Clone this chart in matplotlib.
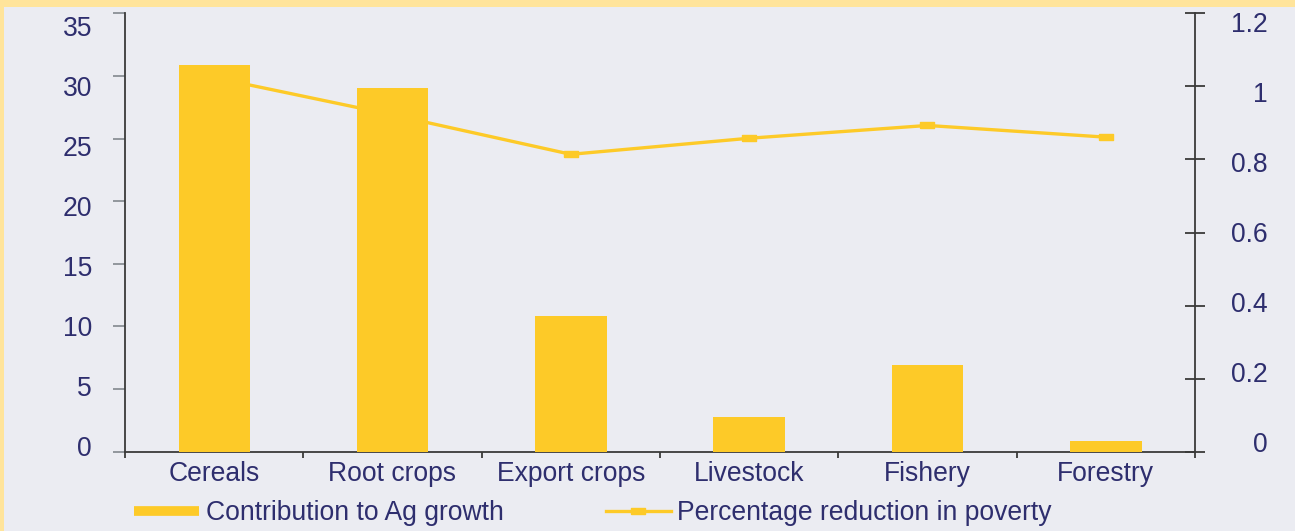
import matplotlib
matplotlib.use("Agg")
import matplotlib.pyplot as plt
import matplotlib.transforms as mtransforms
from matplotlib.lines import Line2D
from matplotlib.patches import Rectangle
import numpy as np

categories = ["Cereals", "Root crops", "Export crops", "Livestock", "Fishery", "Forestry"]
contribution = [30.87, 29.03, 10.83, 2.77, 6.92, 0.85]
poverty_reduction = [1.024, 0.922, 0.814, 0.858, 0.893, 0.861]
left_ticks = [0, 5, 10, 15, 20, 25, 30, 35]
left_labels = ["0", "5", "10", "15", "20", "25", "30", "35"]
right_ticks = [0, 0.2, 0.4, 0.6, 0.8, 1.0, 1.2]
right_labels = ["0", "0.2", "0.4", "0.6", "0.8", "1", "1.2"]
legend_labels = ["Contribution to Ag growth", "Percentage reduction in poverty"]

YELLOW = "#FDCA28"
BG = "#EBECF2"
BORDER = "#FFE49B"
TXT = "#2E2E6E"
SPINE = "#3A3A3A"

plt.rcParams["font.family"] = ["Liberation Sans", "DejaVu Sans"]
FS = 19.1
DPI = 100
W, H = 1295, 531

fig = plt.figure(figsize=(W / DPI, H / DPI), dpi=DPI, facecolor=BG)
# yellow border top and left
fig.patches.append(Rectangle((0, 1 - 7 / H), 1, 7 / H, transform=fig.transFigure,
                             facecolor=BORDER, edgecolor="none", zorder=0))
fig.patches.append(Rectangle((0, 0), 4 / W, 1, transform=fig.transFigure,
                             facecolor=BORDER, edgecolor="none", zorder=0))

left, right_px, top_px, bot_px = 125, 1195, 13.3, 451.7
ax = fig.add_axes([left / W, 1 - bot_px / H, (right_px - left) / W, (bot_px - top_px) / H])
ax2 = ax.twinx()
ax.set_zorder(ax2.get_zorder() + 1)
ax.patch.set_visible(False)
ax2.patch.set_facecolor(BG)

x = np.arange(len(categories))
ax.bar(x, contribution, width=0.40, color=YELLOW, zorder=3)

rect_marker = [(-1, -0.5), (1, -0.5), (1, 0.5), (-1, 0.5), (-1, -0.5)]
ax2.plot(x, poverty_reduction, color=YELLOW, lw=2.4, marker=rect_marker,
         markersize=10, markerfacecolor=YELLOW, markeredgecolor=YELLOW, zorder=2)

ax.set_xlim(-0.5, len(categories) - 0.5)
ax.set_ylim(0, 35)
ax2.set_ylim(0, 1.2)

# spines
for a in (ax, ax2):
    a.spines["top"].set_visible(False)
    for s in ("left", "right", "bottom"):
        a.spines[s].set_color(SPINE)
        a.spines[s].set_linewidth(1.3)
ax.spines["right"].set_visible(False)
ax2.spines["left"].set_visible(False)
ax2.spines["bottom"].set_visible(False)

# x ticks: major at boundaries, minor labelled at centers
ax.set_xticks(np.arange(-0.5, len(categories), 1.0))
ax.set_xticklabels([])
ax.tick_params(axis="x", which="major", direction="out", length=4, width=1.3, color=SPINE)
ax.set_xticks(x, minor=True)
ax.set_xticklabels(categories, minor=True, fontsize=FS, color=TXT)
ax.tick_params(axis="x", which="minor", length=0, pad=7)

# left y ticks
ax.set_yticks(left_ticks)
ax.set_yticklabels([])
ax.tick_params(axis="y", direction="out", length=8.6, width=1.3, color="#8A9096")
# right y ticks
ax2.set_yticks(right_ticks)
ax2.set_yticklabels([])
ax2.tick_params(axis="y", direction="inout", length=14.4, width=1.3, color=SPINE)

# tick labels drawn as text, positions slightly compressed as in original
def px_offset(v, vmax, off_bottom, off_top):
    f = v / vmax
    return off_bottom * (1 - f) + off_top * f

for v, lab in zip(left_ticks, left_labels):
    dy = px_offset(v, 35, 5.7, -12.5)  # px, positive = up
    tr = mtransforms.blended_transform_factory(ax.transAxes, ax.transData) + \
        mtransforms.ScaledTranslation(-33 / DPI, dy / DPI, fig.dpi_scale_trans)
    ax.text(0, v, lab, transform=tr, ha="right", va="center_baseline",
            fontsize=FS, color=TXT, clip_on=False)

for v, lab in zip(right_ticks, right_labels):
    dy = px_offset(v, 1.2, 9.7, -8.7)
    tr = mtransforms.blended_transform_factory(ax2.transAxes, ax2.transData) + \
        mtransforms.ScaledTranslation(73 / DPI, dy / DPI, fig.dpi_scale_trans)
    ax2.text(1, v, lab, transform=tr, ha="right", va="center_baseline",
             fontsize=FS, color=TXT, clip_on=False)

# legend
h1 = Line2D([], [], color=YELLOW, lw=7, solid_capstyle="butt")
h2 = Line2D([], [], color=YELLOW, lw=2.4, marker=rect_marker, markersize=10)
leg = fig.legend([h1, h2], legend_labels, loc="center left",
                 bbox_to_anchor=(134 / W, 18 / H), ncol=2, frameon=False,
                 fontsize=FS, handlelength=2.45, handletextpad=0.25,
                 columnspacing=3.85, borderpad=0, borderaxespad=0)
for t in leg.get_texts():
    t.set_color(TXT)

fig.savefig("out.png", dpi=DPI, facecolor=BG)
